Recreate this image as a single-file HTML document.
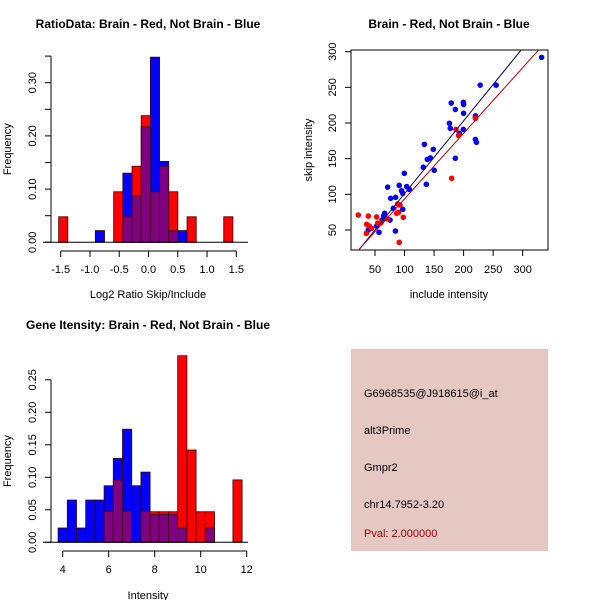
<!DOCTYPE html>
<html><head><meta charset="utf-8"><style>
html,body{margin:0;padding:0;background:#fff;}
svg{display:block;font-family:"Liberation Sans",sans-serif;}
</style></head><body>
<svg id="c" width="600" height="600" viewBox="0 0 600 600" xmlns="http://www.w3.org/2000/svg"></svg>
<script>
// ---- Ratio histogram data ----
const ratioEdgeStart = -1.535;
const ratioBinWidth = 0.1567;
const ratioRed  = [0.048,0,0,0,0,0,0.095,0.048,0.143,0.238,0.095,0.143,0.095,0,0.048,0,0,0,0.048];
const ratioBlue = [0,0,0,0,0.022,0,0,0.13,0.087,0.217,0.348,0.152,0.022,0.022,0,0,0,0,0];
const ratioXTicks = [-1.5,-1.0,-0.5,0.0,0.5,1.0,1.5];
const ratioXTickLabels = ["-1.5","-1.0","-0.5","0.0","0.5","1.0","1.5"];
const ratioYTicks = [0,0.05,0.10,0.15,0.20,0.25,0.30,0.35];
const ratioYTickLabels = ["0.00","","0.10","","0.20","","0.30",""];
// ---- Intensity histogram data ----
const intEdgeStart = 3.8;
const intBinWidth = 0.4;
const intRed  = [0,0,0,0,0,0.048,0.096,0.048,0,0.048,0.047,0.047,0.047,0.287,0.142,0.047,0.047,0,0,0.096];
const intBlue = [0.022,0.065,0.022,0.065,0.065,0.087,0.129,0.174,0.087,0.108,0.043,0.043,0.043,0.022,0,0,0.022,0,0,0];
const intXTicks = [4,6,8,10,12];
const intXTickLabels = ["4","6","8","10","12"];
const intYTicks = [0,0.05,0.10,0.15,0.20,0.25];
const intYTickLabels = ["0.00","0.05","0.10","0.15","0.20","0.25"];
// ---- Scatter data ----
const blueInclude = [332,228,255,179,199.5,200,186,200,176,177.5,220,220,199.5,192.8,220,221.7,186,133.5,148.7,143.7,138.6,131.8,150.3,136.9,99.7,91,71.4,103.6,95,97,108,76.5,85,66.4,64.7,81,97,75.4,61.9,52.8,56.8,38.7,84.5];
const blueSkip    = [292,253,253,228,229,226,219,213.6,199.6,192.6,210,207,191,185.6,177,173,150.5,170,163,151,149,138,133.7,114,129.5,112.6,110,111,105,101.4,107,94.4,95.8,73.4,70,80.4,79,64,64,55.6,46.7,50,48.6];
const redInclude  = [21.7,38.7,52.8,35.9,40.4,44.3,35.3,54.5,60.2,88.4,92.3,86.7,90,97.9,91,70.8,179.8,187,191.5,220];
const redSkip     = [71,69.5,68.3,58,55.6,52.4,45.3,59.6,60.5,86.5,85,73.4,74.8,67.8,32.7,65.6,122.5,191,182.7,206.5];
const blueFit = [-1, 1.02];   // intercept, slope
const redFit  = [1.6, 0.92];
const scXTicks = [50,100,150,200,250,300];
const scYTicks = [50,100,150,200,250,300];

const svg = document.getElementById('c');
const NS = 'http://www.w3.org/2000/svg';
function el(tag, attrs, parent){
  const e = document.createElementNS(NS, tag);
  for (const k in attrs) e.setAttribute(k, attrs[k]);
  (parent||svg).appendChild(e);
  return e;
}
function txt(x,y,s,size,opts,parent){
  const t = el('text',{x:x,y:y,'font-size':size,'text-anchor':(opts&&opts.anchor)||'middle',fill:(opts&&opts.fill)||'#000'},parent);
  if (opts&&opts.bold) t.setAttribute('font-weight','bold');
  if (opts&&opts.rot) t.setAttribute('transform','rotate(-90 '+x+' '+y+')');
  t.textContent = s;
  return t;
}

function histogram(name, edgeStart, bw, red, blue, sx, sy, baseX0, baseX1, axisY, xTicks, xLabels, yTicks, yLabels, axisX, title, titleY, xtitle){
  const g = el('g',{});
  
  
  for (let i=0;i<red.length;i++){
    const x0 = sx(edgeStart+i*bw), x1 = sx(edgeStart+(i+1)*bw);
    const r = red[i], b = blue[i];
    const lo = Math.min(r,b), hi = Math.max(r,b);
    if (hi>0){
      const bar = el('rect',{x:x0,y:sy(hi),width:x1-x0,height:sy(0)-sy(hi),fill:r>=b?'#ff0000':'#0000ff',stroke:'#3a0000','stroke-width':0.8},g);
      
      
    }
    if (lo>0){
      const ov = el('rect',{x:x0,y:sy(lo),width:x1-x0,height:sy(0)-sy(lo),fill:'#7f0080',stroke:'#3a0000','stroke-width':0.8},g);
      
      
    }
  }
  el('line',{x1:baseX0,x2:baseX1,y1:sy(0),y2:sy(0),stroke:'#000'},g);
  // x axis
  el('line',{x1:sx(xTicks[0]),x2:sx(xTicks[xTicks.length-1]),y1:axisY,y2:axisY,stroke:'#000'},g);
  xTicks.forEach((v,i)=>{
    el('line',{x1:sx(v),x2:sx(v),y1:axisY,y2:axisY+6,stroke:'#000'},g);
    txt(sx(v),axisY+22,xLabels[i],11,null,g);
  });
  // y axis
  el('line',{x1:axisX,x2:axisX,y1:sy(yTicks[0]),y2:sy(yTicks[yTicks.length-1]),stroke:'#000'},g);
  yTicks.forEach((v,i)=>{
    el('line',{x1:axisX,x2:axisX-6,y1:sy(v),y2:sy(v),stroke:'#000'},g);
    if (yLabels[i]) txt(axisX-15,sy(v),yLabels[i],11,{rot:true},g);
  });
  const t = txt(148,titleY,title,12,{bold:true},g);
  
  
  const xt = txt(148,titleY+270,xtitle,11,null,g);
  
  
  const yt = txt(11,(sy(0)+sy(yTicks[yTicks.length-1]))/2,'Frequency',11,{rot:true},g);
  
  
}

// Ratio histogram
histogram('ratio-histogram', ratioEdgeStart, ratioBinWidth, ratioRed, ratioBlue,
  v=>60.7+(v+1.5)*58.53, v=>242.3-v*532, 43, 248, 251,
  ratioXTicks, ratioXTickLabels, ratioYTicks, ratioYTickLabels, 51,
  'RatioData: Brain - Red, Not Brain - Blue', 28, 'Log2 Ratio Skip/Include');

// Intensity histogram
histogram('intensity-histogram', intEdgeStart, intBinWidth, intRed, intBlue,
  v=>62.7+(v-4)*23, v=>542.3-v*650, 43, 248, 551,
  intXTicks, intXTickLabels, intYTicks, intYTickLabels, 51,
  'Gene Itensity: Brain - Red, Not Brain - Blue', 329, 'Intensity');

// Scatter
(function(){
  const sx = v=>375+(v-50)*0.5907, sy = v=>230-(v-50)*0.7133;
  const g = el('g',{});
  
  
  const cp = el('clipPath',{id:'scclip'},g);
  el('rect',{x:351,y:50,width:197,height:200},cp);
  el('rect',{x:351,y:50,width:197,height:200,fill:'none',stroke:'#000'},g);
  blueInclude.forEach((v,i)=>{
    const p = el('circle',{cx:sx(v),cy:sy(blueSkip[i]),r:2.8,fill:'#0000ff'},g);
    
    
  });
  redInclude.forEach((v,i)=>{
    const p = el('circle',{cx:sx(v),cy:sy(redSkip[i]),r:2.8,fill:'#ff0000'},g);
    
    
  });
  const lb = el('line',{x1:sx(0),y1:sy(blueFit[0]),x2:sx(400),y2:sy(blueFit[0]+blueFit[1]*400),stroke:'#000080','clip-path':'url(#scclip)'},g);
  
  
  const lr = el('line',{x1:sx(0),y1:sy(redFit[0]),x2:sx(400),y2:sy(redFit[0]+redFit[1]*400),stroke:'#c00000','clip-path':'url(#scclip)'},g);
  
  
  scXTicks.forEach(v=>{
    el('line',{x1:sx(v),x2:sx(v),y1:250,y2:256,stroke:'#000'},g);
    txt(sx(v),273,String(v),11,null,g);
  });
  scYTicks.forEach(v=>{
    el('line',{x1:351,x2:345,y1:sy(v),y2:sy(v),stroke:'#000'},g);
    txt(336,sy(v),String(v),11,{rot:true},g);
  });
  const t = txt(449,28,'Brain - Red, Not Brain - Blue',12,{bold:true},g);
  
  
  const xt = txt(449,298,'include intensity',11,null,g);
  
  
  const yt = txt(312,150,'skip intensity',11,{rot:true},g);
  
  
})();

// Info box
(function(){
  const g = el('g',{});
  
  
  el('rect',{x:351,y:349,width:197,height:202,fill:'#e6c8c2'},g);
  const lines = [['G6968535@J918615@i_at',397,'#000'],['alt3Prime',434,'#000'],['Gmpr2',471,'#000'],['chr14.7952-3.20',508,'#000'],['Pval: 2.000000',537,'#a00000']];
  lines.forEach(l=>{
    const t = txt(364,l[1],l[0],11,{anchor:'start',fill:l[2]},g);
    
    
  });
})();
</script>
</body></html>
